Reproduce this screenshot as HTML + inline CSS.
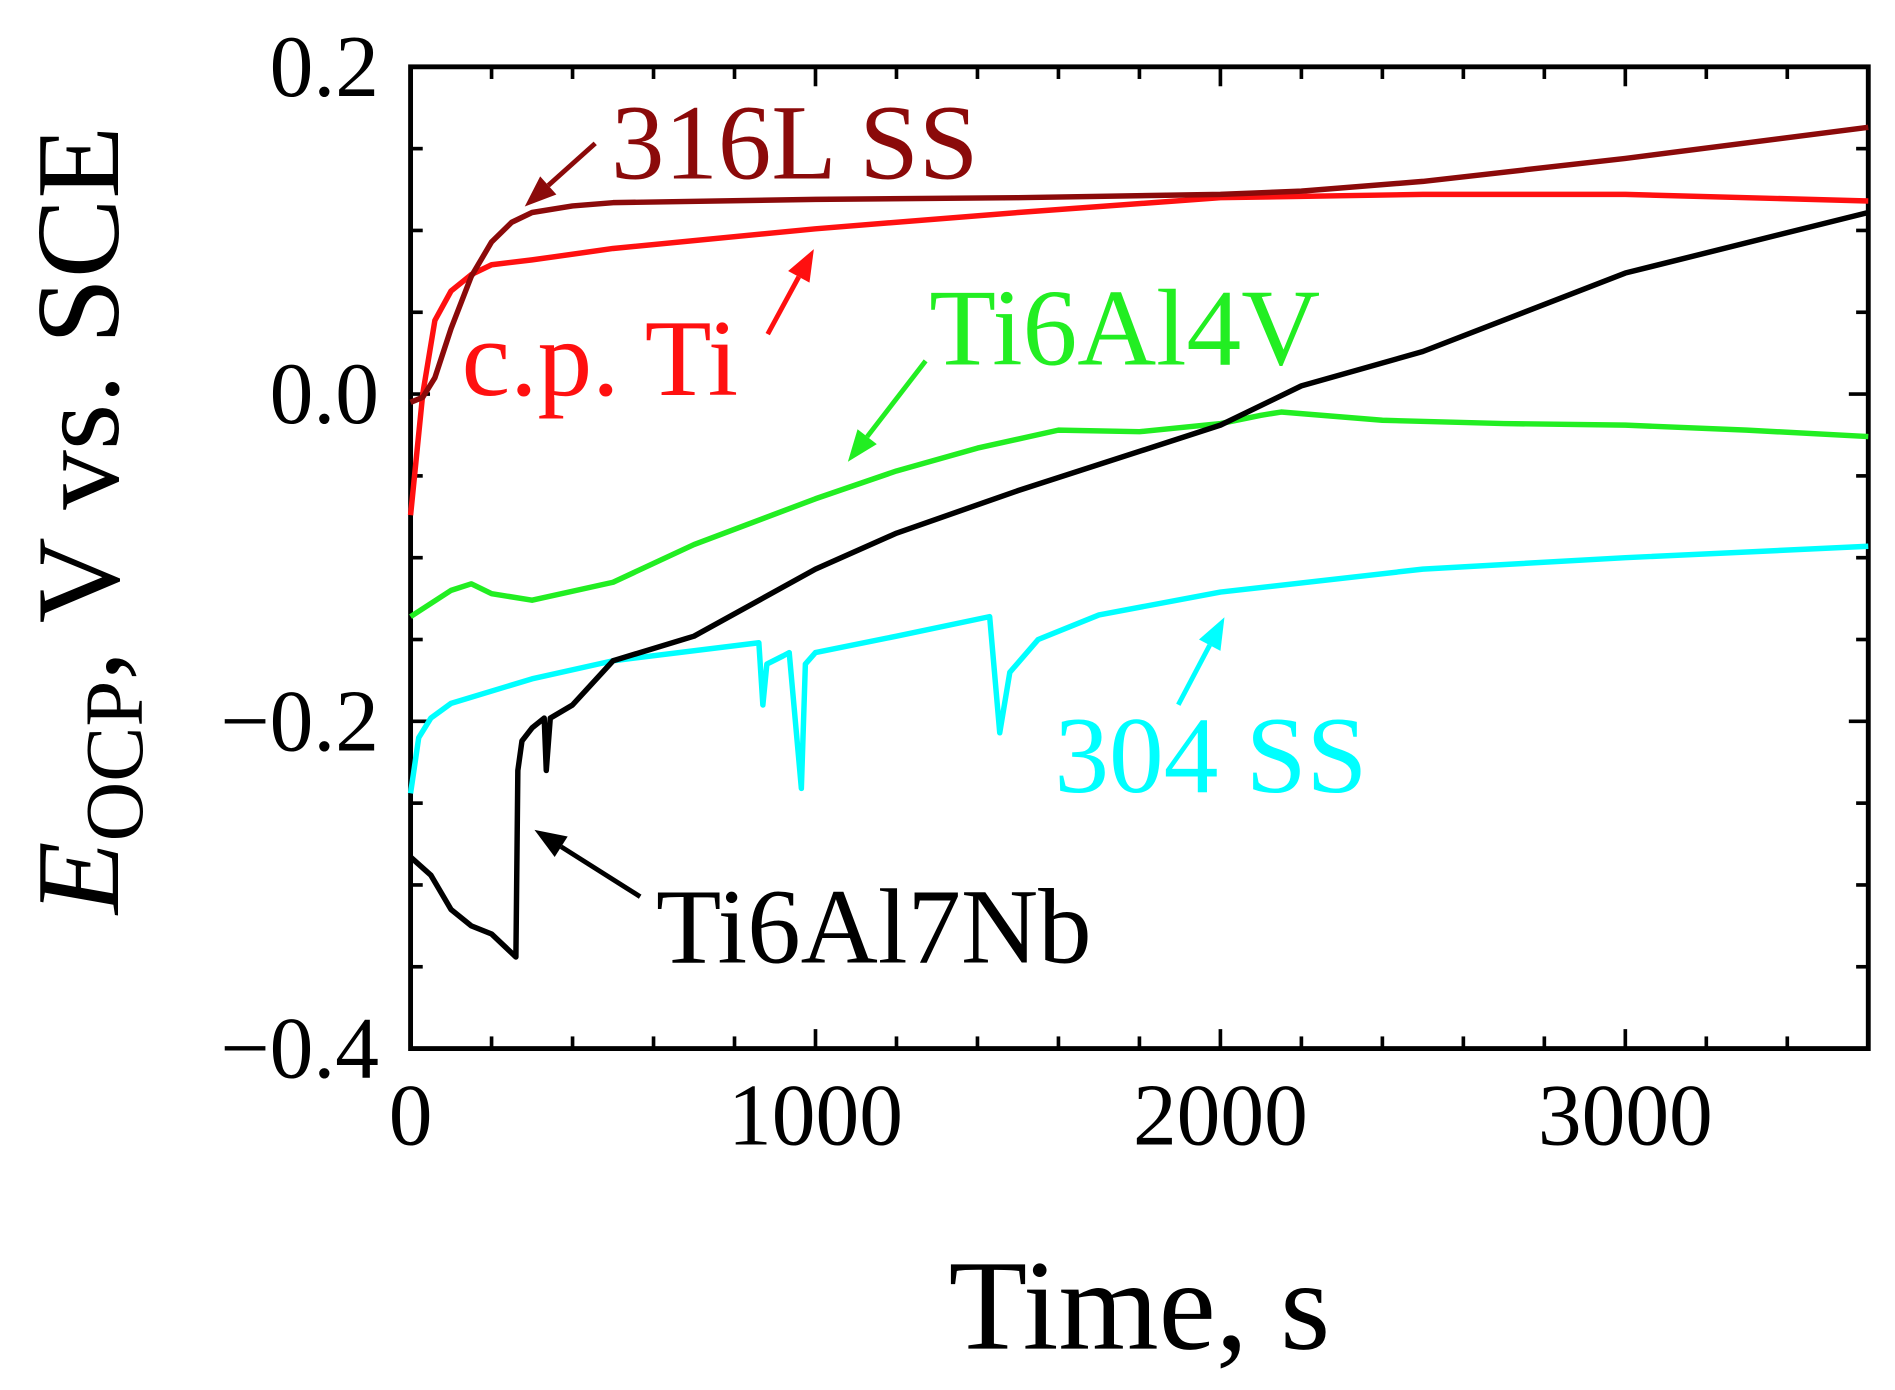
<!DOCTYPE html>
<html><head><meta charset="utf-8"><style>
html,body{margin:0;padding:0;background:#fff;}
svg{display:block;}
text{font-family:"Liberation Serif",serif;}
</style></head><body>
<svg id="chart" width="1895" height="1390" viewBox="0 0 1560 1144" preserveAspectRatio="none" xmlns="http://www.w3.org/2000/svg">
<g id="axes"></g>
<g id="series"></g>
<g id="annot"></g>
</svg>
<script>
const xTicks = [0, 1000, 2000, 3000];
const xTickLabels = ["0", "1000", "2000", "3000"];
const yTicks = [0.2, 0.0, -0.2, -0.4];
const yTickLabels = ["0.2", "0.0", "\u22120.2", "\u22120.4"];

const t316 = [0, 30, 60, 100, 150, 200, 250, 300, 400, 500, 1000, 1500, 2000, 2200, 2500, 3000, 3600];
const v316 = [-0.005, -0.002, 0.01, 0.04, 0.072, 0.093, 0.105, 0.111, 0.115, 0.117, 0.119, 0.120, 0.122, 0.124, 0.130, 0.144, 0.163];

const tTi = [0, 30, 60, 100, 150, 200, 300, 500, 1000, 1500, 2000, 2500, 3000, 3600];
const vTi = [-0.074, 0.0, 0.045, 0.063, 0.073, 0.079, 0.082, 0.089, 0.101, 0.111, 0.120, 0.122, 0.122, 0.118];

const t64 = [0, 100, 150, 200, 300, 500, 700, 1000, 1200, 1400, 1600, 1800, 2000, 2100, 2150, 2400, 2700, 3000, 3300, 3600];
const v64 = [-0.136, -0.12, -0.116, -0.122, -0.126, -0.115, -0.092, -0.064, -0.047, -0.033, -0.022, -0.023, -0.018, -0.013, -0.011, -0.016, -0.018, -0.019, -0.022, -0.026];

const t67 = [0, 50, 100, 150, 200, 260, 265, 275, 300, 330, 335, 345, 400, 500, 700, 1000, 1200, 1500, 2000, 2200, 2500, 3000, 3600];
const v67 = [-0.283, -0.294, -0.315, -0.325, -0.33, -0.344, -0.23, -0.212, -0.204, -0.198, -0.23, -0.198, -0.19, -0.163, -0.148, -0.107, -0.085, -0.059, -0.019, 0.005, 0.026, 0.074, 0.111];

const t304 = [0, 20, 50, 100, 300, 500, 860, 870, 880, 920, 935, 965, 975, 1000, 1200, 1430, 1455, 1480, 1550, 1700, 2000, 2500, 3000, 3600];
const v304 = [-0.244, -0.21, -0.198, -0.189, -0.174, -0.163, -0.152, -0.19, -0.165, -0.16, -0.158, -0.241, -0.165, -0.158, -0.148, -0.136, -0.207, -0.17, -0.15, -0.135, -0.121, -0.107, -0.1, -0.093];

const L=338, R=1538, T=55, B=863;
function X(t){ return L + (t/3600)*(R-L); }
function Y(v){ return B - (v+0.4)/0.6*(B-T); }
const NS="http://www.w3.org/2000/svg";
function mk(tag, attrs, parent){ const e=document.createElementNS(NS,tag); for(const k in attrs) e.setAttribute(k,attrs[k]); parent.appendChild(e); return e; }

const axes=document.getElementById('axes');
const frame = mk('rect',{x:L,y:T,width:R-L,height:B-T,fill:'none',stroke:'#000','stroke-width':4},axes);


for(let t=0;t<=3600;t+=200){
  const len = (t%1000===0)?16:10;
  const a=mk('line',{x1:X(t),x2:X(t),y1:B,y2:B-len,stroke:'#000','stroke-width':3},axes);
  
  
  const b=mk('line',{x1:X(t),x2:X(t),y1:T,y2:T+len,stroke:'#000','stroke-width':3},axes);
  
  
}
for(let i=0;i<=12;i++){
  const v=-0.4+i*0.05; const len=(i%4===0)?16:10;
  const a=mk('line',{x1:L,x2:L+len,y1:Y(v),y2:Y(v),stroke:'#000','stroke-width':3},axes);
  
  
  const b=mk('line',{x1:R,x2:R-len,y1:Y(v),y2:Y(v),stroke:'#000','stroke-width':3},axes);
  
  
}
xTicks.forEach((t,i)=>{
  const e=mk('text',{x:X(t),y:942,'font-size':72,'text-anchor':'middle'},axes);
  e.textContent=xTickLabels[i];
  
  
});
yTicks.forEach((v,i)=>{
  const e=mk('text',{x:312,y:Y(v)+24,'font-size':72,'text-anchor':'end'},axes);
  e.textContent=yTickLabels[i];
  
  
});
const xt=mk('text',{x:938,y:1110,'font-size':106,'text-anchor':'middle'},axes);
xt.textContent='Time, s';


const yt=mk('text',{transform:'translate(97,428) rotate(-90)','font-size':98,'text-anchor':'middle'},axes);
yt.innerHTML='<tspan font-style="italic">E</tspan><tspan font-size="68" dy="20">OCP</tspan><tspan dy="-20">, V vs. SCE</tspan>';



const ser=document.getElementById('series');
function line(ts,vs,color,name){
  const d=ts.map((t,i)=>(i?'L':'M')+X(t).toFixed(1)+','+Y(vs[i]).toFixed(1)).join(' ');
  const p=mk('path',{d:d,fill:'none',stroke:color,'stroke-width':4.5,'stroke-linejoin':'round'},ser);
  
  
}
line(t304,v304,'#00ffff','series-304ss');
line(t64,v64,'#22ee22','series-ti6al4v');
line(t67,v67,'#000000','series-ti6al7nb');
line(tTi,vTi,'#ff1010','series-cp-ti');
line(t316,v316,'#8b0a0a','series-316l-ss');

const an=document.getElementById('annot');
function arrow(x1,y1,x2,y2,color,name){
  const g=mk('g',{},an);
  
  
  const ang=Math.atan2(y2-y1,x2-x1), h=26, w=10;
  const bx=x2-h*Math.cos(ang), by=y2-h*Math.sin(ang);
  mk('line',{x1:x1,y1:y1,x2:bx,y2:by,stroke:color,'stroke-width':4},g);
  const px=-Math.sin(ang)*w, py=Math.cos(ang)*w;
  mk('polygon',{points:`${x2},${y2} ${bx+px},${by+py} ${bx-px},${by-py}`,fill:color},g);
}
function label(x,y,txt,color,size,name){
  const e=mk('text',{x:x,y:y,'font-size':size,fill:color},an);
  e.textContent=txt;
  
  
}
arrow(490,118,432,170,'#8b0a0a','arrow-316l-ss');
arrow(632,275,670,205,'#ff1010','arrow-cp-ti');
arrow(762,297,698,380,'#22ee22','arrow-ti6al4v');
arrow(970,580,1008,508,'#00ffff','arrow-304ss');
arrow(527,738,440,683,'#000','arrow-ti6al7nb');
label(503,147,'316L SS','#8b0a0a',88,'label-316l-ss');
label(380,325,'c.p. Ti','#ff1010',90,'label-cp-ti');
label(765,300,'Ti6Al4V','#22ee22',90,'label-ti6al4v');
label(868,652,'304 SS','#00ffff',90,'label-304ss');
label(540,792,'Ti6Al7Nb','#000',88,'label-ti6al7nb');
</script>
</body></html>
